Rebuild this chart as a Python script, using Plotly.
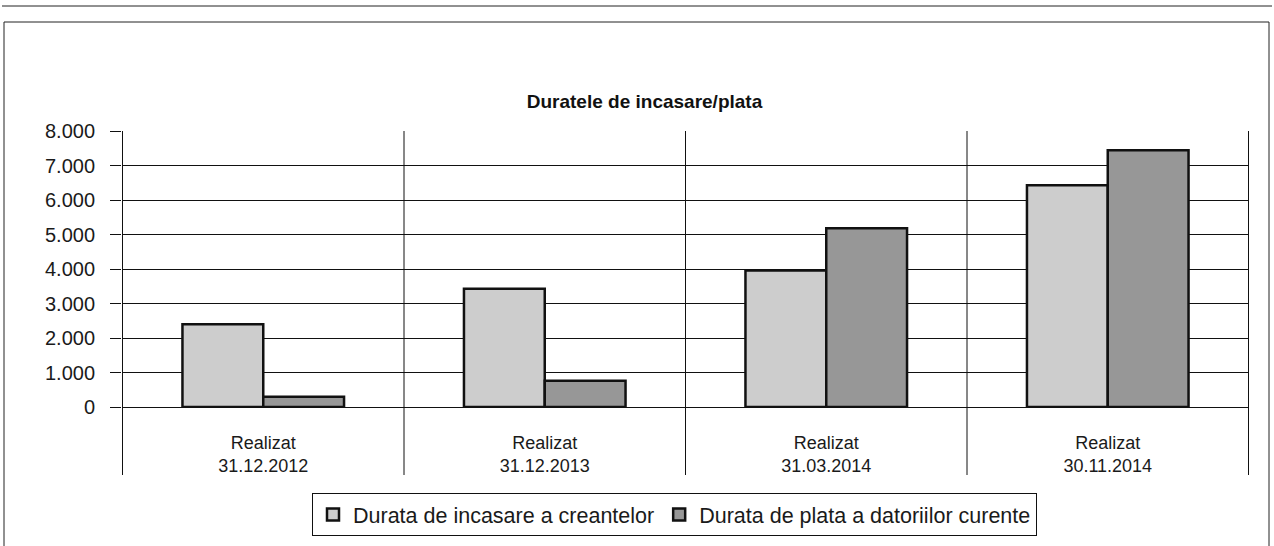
import plotly.graph_objects as go

# Category labels (period + date) and the two series
periods = ["Realizat", "Realizat", "Realizat", "Realizat"]
dates = ["31.12.2012", "31.12.2013", "31.03.2014", "30.11.2014"]
durata_incasare = [2400, 3430, 3960, 6430]
durata_plata = [300, 760, 5180, 7440]
series_names = ["Durata de incasare a creantelor", "Durata de plata a datoriilor curente"]
y_ticks = [0, 1000, 2000, 3000, 4000, 5000, 6000, 7000, 8000]

W, H = 1274, 546
L, R, T, B = 122, 1249, 131, 407  # plot-area edges in pixels


def px(x):
    return (x - L) / (R - L)


def py(y):
    return (B - y) / (B - T)


def thousands(v):
    # 8000 -> "8.000"
    return f"{v:,}".replace(",", ".")


categories = [f"{p}<br>{d}" for p, d in zip(periods, dates)]
FONT = "Liberation Sans, Arial, sans-serif"
INK = "#1a1a1a"

fig = go.Figure()
fig.add_trace(go.Bar(
    x=categories, y=durata_incasare, name=series_names[0],
    marker=dict(color="#cdcdcd", line=dict(color="#111111", width=2.5)),
))
fig.add_trace(go.Bar(
    x=categories, y=durata_plata, name=series_names[1],
    marker=dict(color="#979797", line=dict(color="#111111", width=2.5)),
))

shapes = []
# category separators, extending below the axis through the labels
for i in range(len(categories) + 1):
    shapes.append(dict(type="line", xref="x", yref="paper",
                       x0=i - 0.5, x1=i - 0.5, y0=1, y1=py(475),
                       line=dict(color="#111111", width=1)))
# outer chart frame
shapes.append(dict(type="line", xref="paper", yref="paper",
                   x0=px(2), x1=px(1272), y0=py(6), y1=py(6),
                   line=dict(color="#222222", width=1)))
shapes.append(dict(type="rect", xref="paper", yref="paper",
                   x0=px(4), x1=px(1269), y0=py(22), y1=py(560),
                   line=dict(color="#222222", width=1)))

# value-axis labels, right-aligned a little left of the tick marks
annotations = [
    dict(x=px(97), xref="paper", xanchor="right", y=v, yref="y", yanchor="middle",
         text=thousands(v), showarrow=False,
         font=dict(family=FONT, size=20, color=INK))
    for v in y_ticks
]

fig.update_layout(
    width=W, height=H,
    margin=dict(l=L, r=W - R, t=T, b=H - B, autoexpand=False),
    paper_bgcolor="white", plot_bgcolor="white",
    barmode="group", bargap=0.426, bargroupgap=0,
    font=dict(family=FONT, size=17, color=INK),
    title=dict(text="<b>Duratele de incasare/plata</b>", x=(527 + 762) / 2 / W, xanchor="center",
               y=1 - 101 / H, yanchor="middle",
               font=dict(family=FONT, size=19, color="#111111")),
    showlegend=True,
    legend=dict(orientation="h", x=px(312), xanchor="left", y=py(493), yanchor="top",
                bordercolor="#111111", borderwidth=1, bgcolor="white",
                font=dict(family=FONT, size=21.5, color=INK),
                itemwidth=30, traceorder="normal"),
    shapes=shapes,
    annotations=annotations,
)
fig.update_xaxes(
    type="category", showgrid=False, showline=False, ticks="",
    tickfont=dict(family=FONT, size=18, color=INK),
    ticklabelstandoff=23,
)
fig.update_yaxes(
    range=[0, 8000], tickvals=y_ticks, showticklabels=False,
    showgrid=True, gridcolor="#111111", gridwidth=1,
    zeroline=True, zerolinecolor="#111111", zerolinewidth=1,
    showline=False, ticks="outside", ticklen=11, tickcolor="#111111",
)

fig.write_html("out.html")
